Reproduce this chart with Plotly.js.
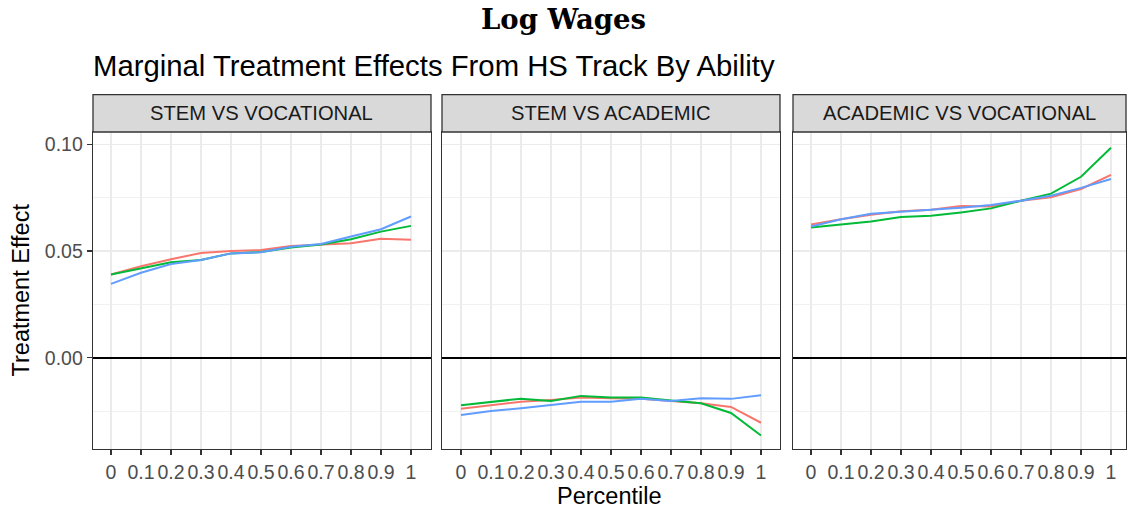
<!DOCTYPE html>
<html>
<head>
<meta charset="utf-8">
<script src="https://cdn.plot.ly/plotly-3.0.1.min.js"></script>
<style>html,body{margin:0;padding:0;background:#fff;}#chart{width:1127px;height:511px;}</style>
</head>
<body>
<div id="chart"></div>
<script>
// ---- data ----
const percentiles = [0, 0.1, 0.2, 0.3, 0.4, 0.5, 0.6, 0.7, 0.8, 0.9, 1];
const xTickLabels = ["0", "0.1", "0.2", "0.3", "0.4", "0.5", "0.6", "0.7", "0.8", "0.9", "1"];
const yTickVals = [0, 0.05, 0.10];
const yTickLabels = ["0.00", "0.05", "0.10"];
const panels = ["STEM VS VOCATIONAL", "STEM VS ACADEMIC", "ACADEMIC VS VOCATIONAL"];
const seriesColors = ["#F8766D", "#00BA38", "#619CFF"];

const stemVoc_red   = [0.0390, 0.0429, 0.0461, 0.0491, 0.0500, 0.0505, 0.0524, 0.0531, 0.0536, 0.0558, 0.0553];
const stemVoc_green = [0.0390, 0.0418, 0.0447, 0.0458, 0.0489, 0.0495, 0.0517, 0.0531, 0.0555, 0.0591, 0.0618];
const stemVoc_blue  = [0.0346, 0.0398, 0.0439, 0.0458, 0.0489, 0.0494, 0.0520, 0.0533, 0.0568, 0.0602, 0.0662];

const stemAcad_red   = [-0.0239, -0.0223, -0.0206, -0.0198, -0.0187, -0.0190, -0.0193, -0.0203, -0.0214, -0.0231, -0.0305];
const stemAcad_green = [-0.0223, -0.0208, -0.0192, -0.0203, -0.0179, -0.0187, -0.0187, -0.0201, -0.0214, -0.0259, -0.0365];
const stemAcad_blue  = [-0.0269, -0.0250, -0.0237, -0.0222, -0.0206, -0.0206, -0.0193, -0.0203, -0.0190, -0.0193, -0.0176];

const acadVoc_red   = [0.0624, 0.0649, 0.0670, 0.0686, 0.0693, 0.0711, 0.0709, 0.0736, 0.0752, 0.0791, 0.0857];
const acadVoc_green = [0.0610, 0.0624, 0.0638, 0.0659, 0.0665, 0.0681, 0.0700, 0.0736, 0.0769, 0.0848, 0.0984];
const acadVoc_blue  = [0.0615, 0.0649, 0.0675, 0.0683, 0.0693, 0.0703, 0.0716, 0.0736, 0.0759, 0.0796, 0.0838];

const panelSeries = [
  [stemVoc_red, stemVoc_green, stemVoc_blue],
  [stemAcad_red, stemAcad_green, stemAcad_blue],
  [acadVoc_red, acadVoc_green, acadVoc_blue]
];

// ---- layout geometry ----
const FONT = "Liberation Sans, Arial, sans-serif";
const domains = [[0, 0.3272], [0.33785, 0.66505], [0.67764, 1]];
const xRanges = [[-0.06, 1.0667], [-0.0633, 1.0633], [-0.06, 1.05]];
const yRange = [-0.0428, 0.1058];
const stripTop = 1.1182;

const traces = [];
panelSeries.forEach((ser, p) => {
  ser.forEach((vals, s) => {
    traces.push({
      x: percentiles, y: vals, type: "scatter", mode: "lines",
      xaxis: p === 0 ? "x" : "x" + (p + 1),
      yaxis: p === 0 ? "y" : "y" + (p + 1),
      line: {color: seriesColors[s], width: 2},
      showlegend: false, hoverinfo: "skip"
    });
  });
});

const layout = {
  width: 1127, height: 511,
  margin: {l: 93, r: 1, t: 132, b: 62, pad: 0},
  paper_bgcolor: "#FFFFFF", plot_bgcolor: "#FFFFFF",
  font: {family: FONT, color: "#000000"},
  showlegend: false,
  title: {text: "<b>Log Wages</b>", x: 0.5, xref: "container", xanchor: "center",
          y: 1 - 19 / 511, yref: "container", yanchor: "middle",
          font: {family: "DejaVu Serif, serif", size: 27.5, color: "#000000"}},
  shapes: [], annotations: []
};

panels.forEach((name, p) => {
  const xk = p === 0 ? "xaxis" : "xaxis" + (p + 1);
  const yk = p === 0 ? "yaxis" : "yaxis" + (p + 1);
  const yid = p === 0 ? "y" : "y" + (p + 1);
  layout[xk] = {
    domain: domains[p], range: xRanges[p], anchor: yid,
    tickmode: "array", tickvals: percentiles, ticktext: xTickLabels, tickangle: 0,
    ticks: "outside", ticklen: 5, tickwidth: 1.2, tickcolor: "#333333",
    tickfont: {family: FONT, size: 19.5, color: "#4D4D4D"},
    showgrid: true, gridcolor: "#EBEBEB", gridwidth: 1.3,
    zeroline: false, showline: true, mirror: true, linecolor: "#333333", linewidth: 1.3,
    fixedrange: true
  };
  layout[yk] = {
    domain: [0, 1], range: yRange, anchor: p === 0 ? "x" : "x" + (p + 1),
    tickmode: "array", tickvals: yTickVals, ticktext: yTickLabels,
    ticks: p === 0 ? "outside" : "", ticklen: 5, tickwidth: 1.2, tickcolor: "#333333",
    showticklabels: p === 0,
    tickfont: {family: FONT, size: 19.5, color: "#4D4D4D"},
    showgrid: true, gridcolor: "#EBEBEB", gridwidth: 1.3,
    minor: {tick0: 0, dtick: 0.025, showgrid: true, gridcolor: "#EBEBEB", gridwidth: 0.7, ticks: ""},
    zeroline: true, zerolinecolor: "#000000", zerolinewidth: 2,
    showline: true, mirror: true, linecolor: "#333333", linewidth: 1.3,
    fixedrange: true
  };
  layout.shapes.push({
    type: "rect", xref: "paper", yref: "paper",
    x0: domains[p][0], x1: domains[p][1], y0: 1, y1: stripTop,
    fillcolor: "#D9D9D9", line: {color: "#333333", width: 1.3}, layer: "above"
  });
  layout.annotations.push({
    text: name, xref: "paper", yref: "paper",
    x: (domains[p][0] + domains[p][1]) / 2, y: (stripTop + 1) / 2,
    xanchor: "center", yanchor: "middle", showarrow: false,
    font: {family: FONT, size: 20.2, color: "#1A1A1A"}
  });
});

layout.annotations.push({
  text: "Marginal Treatment Effects From HS Track By Ability",
  xref: "paper", yref: "paper", x: -0.002, y: (449 - 65) / 317,
  xanchor: "left", yanchor: "middle", showarrow: false,
  font: {family: FONT, size: 29.3, color: "#000000"}
});
layout.annotations.push({
  text: "Percentile", xref: "paper", yref: "paper", x: 0.5, y: (449 - 496) / 317,
  xanchor: "center", yanchor: "middle", showarrow: false,
  font: {family: FONT, size: 23.5, color: "#000000"}
});
layout.annotations.push({
  text: "Treatment Effect", xref: "paper", yref: "paper", x: (20 - 93) / 1033, y: 0.5,
  xanchor: "center", yanchor: "middle", textangle: -90, showarrow: false,
  font: {family: FONT, size: 23.5, color: "#000000"}
});

Plotly.newPlot("chart", traces, layout, {displayModeBar: false, staticPlot: true});
</script>
</body>
</html>
